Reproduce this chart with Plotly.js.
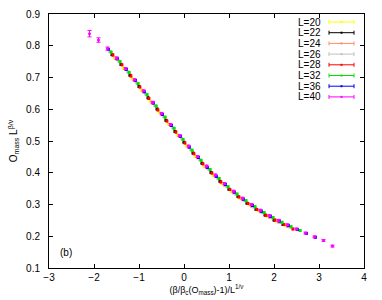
<!DOCTYPE html>
<html>
<head>
<meta charset="utf-8">
<script src="https://cdn.plot.ly/plotly-3.0.1.min.js"></script>
<style>html,body{margin:0;padding:0;background:#fff;}#chart{width:382px;height:300px;}</style>
</head>
<body>
<div id="chart"></div>
<script>
// ---- data ----
const labels = ["L=20","L=22","L=24","L=26","L=28","L=32","L=36","L=40"];
const colors = ["#ffff00","#000000","#ff8c69","#c0c0c0","#ff0000","#00e000","#0000ff","#ff00ff"];

const x20 = [-1.55,-1.35,-1.15,-0.95,-0.75,-0.55,-0.35,-0.15,0.05,0.25,0.45,0.65,0.85,1.05,1.25,1.45,1.65,1.85,2.05,2.25];
const y20 = [0.762,0.730,0.696,0.661,0.625,0.590,0.554,0.519,0.485,0.452,0.420,0.392,0.365,0.341,0.319,0.299,0.280,0.263,0.248,0.234];

const x22 = [-1.6,-1.4,-1.2,-1.0,-0.8,-0.6,-0.4,-0.2,0.0,0.2,0.4,0.6,0.8,1.0,1.2,1.4,1.6,1.8,2.0,2.2];
const y22 = [0.772,0.741,0.707,0.672,0.636,0.601,0.565,0.530,0.496,0.462,0.430,0.401,0.373,0.348,0.325,0.304,0.285,0.267,0.251,0.237];

const x24 = [-1.5,-1.3,-1.1,-0.9,-0.7,-0.5,-0.3,-0.1,0.1,0.3,0.5,0.7,0.9,1.1,1.3,1.5,1.7,1.9,2.1,2.3];
const y24 = [0.758,0.725,0.690,0.655,0.619,0.584,0.549,0.514,0.480,0.447,0.416,0.388,0.361,0.337,0.315,0.295,0.277,0.260,0.245,0.231];

const x26 = [-1.65,-1.45,-1.25,-1.05,-0.85,-0.65,-0.45,-0.25,-0.05,0.15,0.35,0.55,0.75,0.95,1.15,1.35,1.55,1.75,1.95,2.15,2.35];
const y26 = [0.782,0.752,0.718,0.683,0.648,0.612,0.577,0.542,0.507,0.473,0.441,0.411,0.383,0.357,0.333,0.312,0.292,0.274,0.258,0.243,0.229];

const x28 = [-1.58,-1.38,-1.18,-0.98,-0.78,-0.58,-0.38,-0.18,0.02,0.22,0.42,0.62,0.82,1.02,1.22,1.42,1.62,1.82,2.02,2.22,2.42];
const y28 = [0.771,0.740,0.705,0.670,0.634,0.598,0.563,0.528,0.494,0.460,0.428,0.399,0.371,0.347,0.324,0.303,0.284,0.266,0.251,0.237,0.223];

const x32 = [-1.62,-1.42,-1.22,-1.02,-0.82,-0.62,-0.42,-0.22,-0.02,0.18,0.38,0.58,0.78,0.98,1.18,1.38,1.58,1.78,1.98,2.18,2.38,2.58];
const y32 = [0.780,0.750,0.716,0.681,0.646,0.610,0.575,0.540,0.505,0.471,0.439,0.410,0.382,0.356,0.333,0.312,0.293,0.275,0.259,0.244,0.230,0.218];

const x36 = [-1.68,-1.48,-1.28,-1.08,-0.88,-0.68,-0.48,-0.28,-0.08,0.12,0.32,0.52,0.72,0.92,1.12,1.32,1.52,1.72,1.92,2.12,2.32,2.52,2.72,2.92];
const y36 = [0.789,0.759,0.726,0.691,0.655,0.620,0.584,0.549,0.515,0.481,0.448,0.417,0.389,0.363,0.339,0.317,0.297,0.279,0.263,0.248,0.234,0.221,0.209,0.197];

const x40 = [-2.1,-1.9,-1.7,-1.5,-1.3,-1.1,-0.9,-0.7,-0.5,-0.3,-0.1,0.1,0.3,0.5,0.7,0.9,1.1,1.3,1.5,1.7,1.9,2.1,2.3,2.5,2.7,2.9,3.1,3.3];
const y40 = [0.838,0.818,0.791,0.761,0.728,0.693,0.658,0.622,0.587,0.552,0.517,0.484,0.451,0.421,0.393,0.366,0.342,0.320,0.300,0.282,0.265,0.250,0.236,0.223,0.210,0.198,0.187,0.169];
const e40 = [0.010,0.007,0.005,0.004,0.003,0.003,0.003,0.003,0.003,0.003,0.003,0.003,0.003,0.003,0.003,0.003,0.003,0.003,0.003,0.003,0.003,0.003,0.003,0.003,0.003,0.003,0.003,0.003];

const xs = [x20,x22,x24,x26,x28,x32,x36,x40];
const ys = [y20,y22,y24,y26,y28,y32,y36,y40];
const errs = [0.003,0.003,0.003,0.003,0.003,0.003,0.003,e40];

// ---- traces ----
const traces = labels.map((lab,i)=>({
  type:'scatter', mode:'markers', name:lab, x:xs[i], y:ys[i],
  marker:{color:colors[i], size:3, line:{width:0}},
  error_y: Array.isArray(errs[i]) ? {type:'data', array:errs[i], visible:true, color:colors[i], thickness:1, width:2}
                                  : {type:'constant', value:errs[i], visible:true, color:colors[i], thickness:1, width:1.5},
  showlegend:false, hoverinfo:'skip'
}));

// ---- manual gnuplot-style key (text left, sample right) ----
const L=49, R=364, T=14, B=268;
const px = v => (v-L)/(R-L);
const py = v => (B-v)/(B-T);
const shapes=[], annotations=[];
labels.forEach((lab,i)=>{
  const yy = 22 + i*10.7;
  annotations.push({xref:'paper', yref:'paper', x:px(323), y:py(yy), xanchor:'right', yanchor:'middle',
    text:lab, showarrow:false, font:{family:'Liberation Sans, Arial, sans-serif', size:10, color:'#000'}});
  shapes.push({type:'line', xref:'paper', yref:'paper', x0:px(329), x1:px(354), y0:py(yy), y1:py(yy), line:{color:colors[i], width:1}});
  shapes.push({type:'line', xref:'paper', yref:'paper', x0:px(329), x1:px(329), y0:py(yy-2), y1:py(yy+2), line:{color:colors[i], width:1}});
  shapes.push({type:'line', xref:'paper', yref:'paper', x0:px(354), x1:px(354), y0:py(yy-2), y1:py(yy+2), line:{color:colors[i], width:1}});
  shapes.push({type:'rect', xref:'paper', yref:'paper', x0:px(340.5), x1:px(342.5), y0:py(yy-1), y1:py(yy+1), line:{width:0}, fillcolor:colors[i]});
});
annotations.push({xref:'paper', yref:'paper', x:px(66), y:py(252), xanchor:'center', yanchor:'middle',
  text:'(b)', showarrow:false, font:{family:'Liberation Sans, Arial, sans-serif', size:10, color:'#000'}});

const font = {family:'Liberation Sans, Arial, sans-serif', size:10, color:'#000'};
const layout = {
  width:382, height:300,
  margin:{l:L, r:382-R, t:T, b:300-B},
  paper_bgcolor:'#fff', plot_bgcolor:'#fff',
  font:font,
  showlegend:false,
  xaxis:{range:[-3,4], dtick:1, tick0:-3, ticks:'inside', ticklen:4, tickwidth:1, tickcolor:'#000',
         showline:true, linecolor:'#000', linewidth:1, mirror:'ticks', zeroline:false, showgrid:false,
         tickfont:font, automargin:false,
         title:{text:'(β/β<sub>c</sub>(O<sub>mass</sub>)-1)/L<sup>1/ν</sup>', font:{family:font.family,size:9,color:'#000'}, standoff:3}},
  yaxis:{range:[0.1,0.9], dtick:0.1, tick0:0.1, tickformat:'.1f', ticks:'inside', ticklen:4, tickwidth:1, tickcolor:'#000',
         showline:true, linecolor:'#000', linewidth:1, mirror:'ticks', zeroline:false, showgrid:false,
         tickfont:font, automargin:false, ticklabelstandoff:6,
         title:{text:'O<sub>mass</sub> L<sup>β/ν</sup>', font:{family:font.family,size:10,color:'#000'}, standoff:6}},
  shapes:shapes, annotations:annotations
};
Plotly.newPlot('chart', traces, layout, {staticPlot:true, displayModeBar:false});
</script>
</body>
</html>
